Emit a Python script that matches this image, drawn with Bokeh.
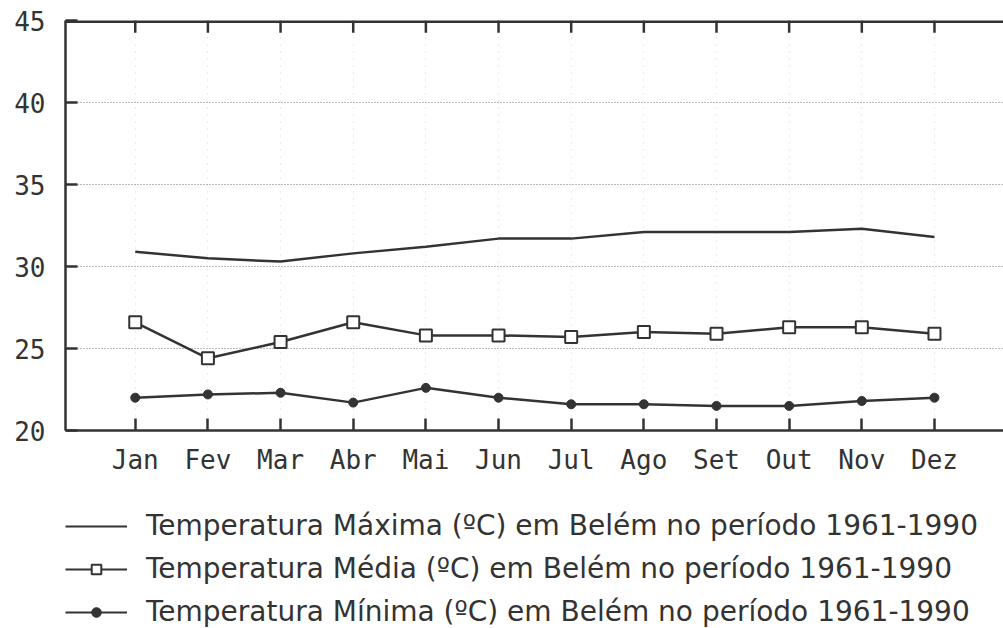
from bokeh.plotting import figure
from bokeh.embed import file_html
from bokeh.resources import INLINE
from bokeh.layouts import column
from bokeh.models import FixedTicker, Legend, LegendItem, Range1d, Span

months = ["Jan", "Fev", "Mar", "Abr", "Mai", "Jun", "Jul", "Ago", "Set", "Out", "Nov", "Dez"]
month_idx = list(range(1, 13))
t_max = [30.9, 30.5, 30.3, 30.8, 31.2, 31.7, 31.7, 32.1, 32.1, 32.1, 32.3, 31.8]
t_med = [26.6, 24.4, 25.4, 26.6, 25.8, 25.8, 25.7, 26.0, 25.9, 26.3, 26.3, 25.9]
t_min = [22.0, 22.2, 22.3, 21.7, 22.6, 22.0, 21.6, 21.6, 21.5, 21.5, 21.8, 22.0]
y_ticks = [20, 25, 30, 35, 40, 45]
labels = [
    "Temperatura Máxima (ºC) em Belém no período 1961-1990",
    "Temperatura Média (ºC) em Belém no período 1961-1990",
    "Temperatura Mínima (ºC) em Belém no período 1961-1990",
]

INK = "#333333"
MONO = "DejaVu Sans Mono"
Y_MIN, Y_MAX = 20, 45

p = figure(width=1003, height=480, output_backend="svg", toolbar_location=None,
           x_range=Range1d(0.04, 12.95), y_range=Range1d(Y_MIN, Y_MAX),
           min_border_left=65, min_border_right=0, min_border_top=20, min_border_bottom=50,
           background_fill_color="white", border_fill_color="white")
p.outline_line_color = None

# grid
p.ygrid.ticker = FixedTicker(ticks=[25, 30, 35, 40])
p.ygrid.grid_line_color = "#777777"
p.ygrid.grid_line_dash = "1 2"
p.ygrid.grid_line_width = 1
p.xgrid.ticker = FixedTicker(ticks=month_idx)
p.xgrid.grid_line_color = "#bbbbbb"
p.xgrid.grid_line_dash = "1 6"
p.xgrid.grid_line_alpha = 0.6

# bottom axis
xa = p.xaxis[0]
xa.ticker = FixedTicker(ticks=month_idx)
xa.major_label_overrides = {i: m for i, m in zip(month_idx, months)}
xa.major_tick_in = 12
xa.major_tick_out = 0
xa.minor_tick_line_color = None
xa.axis_line_width = 2.5
xa.axis_line_color = INK
xa.major_tick_line_width = 2.5
xa.major_tick_line_color = INK
xa.major_label_text_font = MONO
xa.major_label_text_font_size = "26px"
xa.major_label_text_color = INK
xa.major_label_standoff = 14

# left axis
ya = p.yaxis[0]
ya.ticker = FixedTicker(ticks=y_ticks)
ya.major_tick_in = 12
ya.major_tick_out = 0
ya.minor_tick_line_color = None
ya.axis_line_width = 2.5
ya.axis_line_color = INK
ya.major_tick_line_width = 2.5
ya.major_tick_line_color = INK
ya.major_label_text_font = MONO
ya.major_label_text_font_size = "26px"
ya.major_label_text_color = INK
ya.major_label_standoff = 20

# top frame line with inward ticks
p.add_layout(Span(location=Y_MAX, dimension="width", line_color=INK, line_width=5))
tick_len = 0.75
p.segment(x0=month_idx, y0=[Y_MAX] * 12, x1=month_idx, y1=[Y_MAX - tick_len] * 12,
          line_color=INK, line_width=2.5)

p.line(month_idx, t_max, line_color=INK, line_width=2.5)
p.line(month_idx, t_med, line_color=INK, line_width=2.5)
p.scatter(month_idx, t_med, marker="square", size=12, fill_color="white",
          line_color=INK, line_width=2)
p.line(month_idx, t_min, line_color=INK, line_width=2.5)
p.scatter(month_idx, t_min, marker="circle", size=9, fill_color=INK, line_color=INK)

# legend panel (separate strip below the chart)
lf = figure(width=1003, height=148, output_backend="svg", toolbar_location=None,
            x_range=Range1d(-20, -19), y_range=Range1d(Y_MIN, Y_MAX),
            x_axis_location=None, y_axis_location=None,
            min_border_left=0, min_border_right=0, min_border_top=0, min_border_bottom=0,
            background_fill_color="white", border_fill_color="white")
lf.outline_line_color = None
lf.grid.visible = False
l_max = lf.line(month_idx, t_max, line_color=INK, line_width=2)
l_med = lf.line(month_idx, t_med, line_color=INK, line_width=2)
m_med = lf.scatter(month_idx, t_med, marker="square", size=9, fill_color="white",
                   line_color=INK, line_width=2)
l_min = lf.line(month_idx, t_min, line_color=INK, line_width=2)
m_min = lf.scatter(month_idx, t_min, marker="circle", size=7, fill_color=INK, line_color=INK)

legend = Legend(items=[
    LegendItem(label=labels[0], renderers=[l_max]),
    LegendItem(label=labels[1], renderers=[l_med, m_med]),
    LegendItem(label=labels[2], renderers=[l_min, m_min]),
], location=(0, 0), orientation="vertical",
   label_text_font="DejaVu Sans", label_text_font_size="28px", label_text_color=INK,
   glyph_width=62, glyph_height=24, label_height=30, label_standoff=19, spacing=10,
   padding=0, margin=0, border_line_color=None, background_fill_alpha=0)
lf.add_layout(legend, "center")

open("out.html", "w").write(file_html(column(p, lf, spacing=0), INLINE))
